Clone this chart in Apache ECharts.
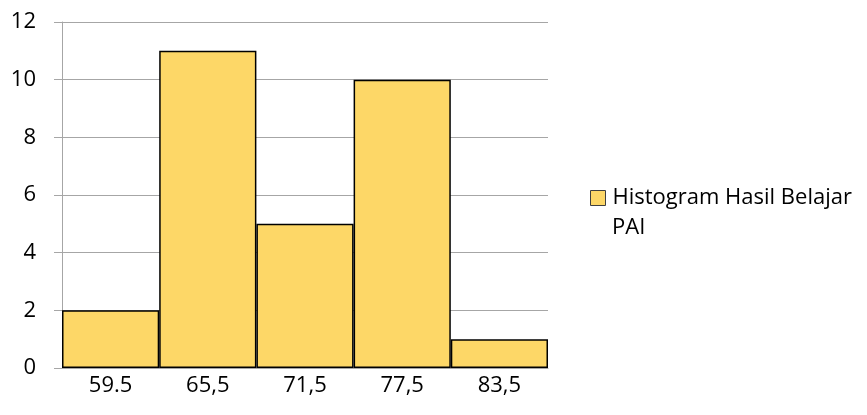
<!DOCTYPE html>
<html>
<head>
<meta charset="utf-8">
<script src="https://cdn.jsdelivr.net/npm/echarts@6/dist/echarts.min.js"></script>
<style>
  html, body { margin: 0; padding: 0; background: #fff; }
  #chart { width: 867px; height: 415px; }
</style>
</head>
<body>
<div id="chart"></div>
<script>
var categories = ["59.5", "65,5", "71,5", "77,5", "83,5"];
var counts = [2, 11, 5, 10, 1];
var yTicks = { min: 0, max: 12, interval: 2 };
var seriesName = "Histogram Hasil Belajar PAI";

var chartDom = document.getElementById("chart");
var myChart = echarts.init(chartDom);
var font = "'Open Sans', Lato, sans-serif";
var gridGray = "#a6a6a6";

var option = {
  animation: false,
  textStyle: { fontFamily: font },
  grid: { left: 62, right: 319, top: 22, bottom: 47 },
  legend: {
    orient: "vertical",
    left: 590,
    top: 187,
    padding: 0,
    itemWidth: 15,
    itemHeight: 15,
    icon: "rect",
    itemStyle: { borderColor: "#404040", borderWidth: 1 },
    textStyle: { fontSize: 22, color: "#000", fontFamily: font, lineHeight: 22, padding: [0, 0, 0, 2] },
    formatter: function () {
      // the legend wraps its label in the reference; second line drawn below
      return "Histogram Hasil Belajar";
    },
    data: [seriesName]
  },
  graphic: [
    {
      type: "text",
      left: 612,
      top: 217,
      style: { text: "PAI", fill: "#000", font: "22px " + font }
    }
  ],
  xAxis: {
    type: "category",
    data: categories,
    boundaryGap: true,
    axisLine: { lineStyle: { color: gridGray, width: 1 } },
    axisTick: { alignWithLabel: false, length: 6, lineStyle: { color: gridGray } },
    axisLabel: { color: "#000", fontSize: 22, margin: 7, fontFamily: font }
  },
  yAxis: {
    type: "value",
    min: yTicks.min,
    max: yTicks.max,
    interval: yTicks.interval,
    axisLine: { show: true, lineStyle: { color: gridGray, width: 1 } },
    axisTick: { show: true, length: 8, lineStyle: { color: gridGray } },
    splitLine: { lineStyle: { color: gridGray, width: 1 } },
    axisLabel: { color: "#000", fontSize: 22, margin: 26, fontFamily: font }
  },
  series: [
    {
      name: seriesName,
      type: "bar",
      data: counts,
      barCategoryGap: "0%",
      itemStyle: {
        color: "#fdd767",
        borderColor: "#000",
        borderWidth: 1.5
      }
    }
  ]
};

myChart.setOption(option);
</script>
</body>
</html>
